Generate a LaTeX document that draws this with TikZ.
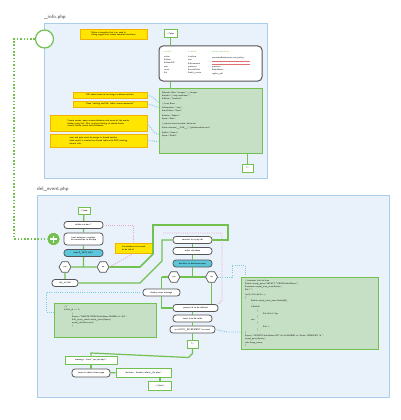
\documentclass[tikz,border=0pt]{standalone}
\usetikzlibrary{shapes.geometric,calc}
\definecolor{panelfill}{HTML}{E9F1FA}
\definecolor{panelline}{HTML}{AACDEB}
\definecolor{gline}{HTML}{72C050}
\definecolor{codefill}{HTML}{C6E0C5}
\definecolor{noteyel}{HTML}{FFE500}
\definecolor{noteorg}{HTML}{F2B200}
\definecolor{cyanfill}{HTML}{5CC6DA}
\definecolor{dcyan}{HTML}{7CCCDC}
\definecolor{dpink}{HTML}{E8A8C0}
\definecolor{boxline}{HTML}{555555}
\definecolor{redl}{HTML}{E07070}
\newcommand\tf{\fontsize{2.3}{2.8}\selectfont\sffamily}
\newcommand\cf{\fontsize{2.1}{3.2}\selectfont\sffamily}
\tikzset{
  panel/.style={fill=panelfill,draw=panelline,line width=1pt},
  note/.style={fill=noteyel,draw=noteorg,line width=0.8pt,inner sep=1.2pt,align=left,font=\tf,anchor=center},
  rbox/.style={rounded corners=3pt,draw=boxline,fill=white,line width=0.8pt,minimum width=39pt,minimum height=7pt,inner sep=0pt,font=\tf,align=center},
  cbox/.style={rbox,fill=cyanfill},
  gbox/.style={draw=gline,fill=white,line width=1pt,minimum height=8pt,inner sep=1pt,font=\tf,align=center},
  codebox/.style={fill=codefill,draw=gline,line width=1pt},
  flow/.style={draw=gline,line width=1.2pt},
  gdot/.style={draw=gline,line width=1.3pt,dash pattern=on 1.5pt off 1.8pt},
  cdot/.style={draw=dcyan,line width=0.9pt,dash pattern=on 1pt off 1.2pt},
  pdot/.style={draw=dpink,line width=0.9pt,dash pattern=on 1pt off 1.2pt},
  hexa/.style={regular polygon,regular polygon sides=6,draw=boxline,fill=white,line width=0.7pt,minimum size=12pt,inner sep=0pt,font=\tf},
  ctext/.style={font=\cf,anchor=west,inner sep=0pt},
  title/.style={font=\fontsize{5}{6}\selectfont\sffamily,text=black!75,anchor=west,inner sep=0pt},
}
\begin{document}
\begin{tikzpicture}[x=1pt,y=-1pt]
\useasboundingbox[fill=white] (0,0) rectangle (400,420);
% ================= TOP PANEL =================
\node[title] (t1) at (44,17) {\_info.php};
\draw[panel] (44,24) rectangle (267,178);
\node[note,minimum width=67pt,minimum height=10pt] (nt1) at (113.5,34) {Make a template that can used in\\ listing pages that access common functions};
\node[gbox,minimum width=13pt] (php1) at (170.5,34) {\textless?php};
\node[draw=boxline,fill=white,line width=1pt,rounded corners=4pt,minimum width=103pt,minimum height=35pt,inner sep=0pt] (tb) at (210.5,63.5) {};
\node[codebox,minimum width=103pt,minimum height=65pt,inner sep=0pt] (cb1) at (210.5,120.5) {};
\node[gbox,minimum width=11pt] (end1) at (247.5,168) {?\textgreater};
\draw[flow] (php1.south) -- (php1.south |- tb.north);
\draw[flow] (php1.south |- tb.south) -- (php1.south |- cb1.north);
\draw[flow] (end1.north |- cb1.south) -- (end1.north);
% table content
\node[ctext,text=gline] (h1) at (164,52) {variable};
\node[ctext,text=gline] (h2) at (188,52) {localhost};
\node[ctext,text=gline] (h3) at (212,52) {\$event description};
\node[ctext,align=left,anchor=north west] (col1) at (164,56) {action\\ \$album\\ \$albumPID\\ user\\ count\\ \$id};
\node[ctext,align=left,anchor=north west] (col2) at (188,56) {localhost\\ user\\ \$dbpassword\\ password\\ \$eventsTable\\ \$table\_events};
\node[ctext] (r1) at (212,57.5) {username@mydomain.com/gallery/};
\draw[redl,line width=0.6pt] (212,61) -- (250,61);
\draw[redl,line width=0.6pt] (212,64.5) -- (250,64.5);
\node[ctext,align=left,anchor=north west] (col3) at (212,66) {password\\ \$tableName\\ tagline\_pdf};
% code content
\node[ctext,align=left,anchor=north west] (code1) at (162,91.5) {\$dbpath=\$doc."/images/"; //images\\ \$tmpdir="/tmp/myalbums/";\\ \$dbhost="localhost";\\[2pt] //Loop Rows\\ \$albumpath="/tmp";\\ \$userFolder="\$user";\\[2pt] \$admin="\$admin";\\ \$pass="\$aaa";\\[2pt] //require shared method (album set\\ \$dirn=dirname(\_\_FILE\_\_)."/globalmyalbum.conf";\\[2pt] \$table="\$name";\\ \$pass="\$table";};
% notes left
\node[note,minimum width=74pt,minimum height=6pt] (nt2) at (110,95) {DB admin bank to be assign in dbases section};
\node[note,minimum width=74pt,minimum height=6pt] (nt3) at (110,104) {Close "setting and Db, table, name connected"};
\node[note,minimum width=97pt,minimum height=16pt] (nt4) at (98.5,123.5) {Create access, open access database and name of the events\\ before using this. May analyse relating to shared locale\\ usually locale create and databases.};
\node[note,minimum width=97pt,minimum height=13pt] (nt5) at (98.5,140.5) {user and pass must be assign in shared section\\ table result is created on shared table with PHP printing\\ format info.};
\draw[cdot] (nt2.east) -- ++(5,2) -- ($(cb1.north west)+(0,15)$);
\draw[cdot] (nt3.east) -- ++(4,1) -- ($(cb1.north west)+(0,20)$);
\draw[cdot] (nt4.east) -- ++(7,9) -- ($(cb1.north west)+(0,47)$);
\draw[cdot] (nt5.east) -- ($(cb1.north west)+(0,54)$);
% green circle and dotted link
\node[circle,draw=gline,fill=white,line width=1.2pt,minimum size=18pt,inner sep=0pt] (cc) at (44.5,39) {};
% ================= BOTTOM PANEL =================
\node[title] (t2) at (37,189) {del\_event.php};
\draw[panel] (37,195) rectangle (389,397);
\node[circle,fill=gline,draw=white,line width=0.5pt,minimum size=13pt,inner sep=0pt] (plus) at (53.5,239) {};
\draw[white,line width=1.6pt] ($(plus.center)+(-3.5,0)$) -- ($(plus.center)+(3.5,0)$) ($(plus.center)+(0,-3.5)$) -- ($(plus.center)+(0,3.5)$);
\draw[gdot] (cc.west) -- (14,39) -- (14,239) -- (plus.west);
% left column
\node[gbox,minimum width=12pt,minimum height=7pt] (php2) at (84,211) {\textless?php};
\node[rbox] (b1) at (83.5,225) {define var.doc ?};
\node[rbox,minimum height=12pt] (b2) at (83.5,239) {load database variables\\ for connection to db.php};
\node[cbox] (b3) at (83.5,253) {isset(\$\_GET['id'])?};
\node[hexa] (hy1) at (65,267) {yes};
\node[hexa] (hn1) at (103,267) {no};
\node[rbox,minimum width=26pt] (b4) at (65,283) {del\_id=\$id};
\draw[flow] (php2) -- (b1) -- (b2) -- (b3) -- (b3.south |- hy1.east);
\draw[flow] (hy1) -- (hn1);
\draw[flow] (hy1) -- (b4);
\node[note,minimum width=37pt,minimum height=10pt] (y1) at (133.5,248) {Lie database that need\\ to be tab id};
\draw[pdot] (b1.east) -- (y1.north |- b1.east) -- (y1.north);
\draw[pdot] (y1.south) -- (hn1.east);
% center column
\node[rbox] (c1) at (192.5,240) {connect to mysql db};
\node[rbox] (c2) at (192.5,251) {select database};
\node[cbox] (c3) at (192.5,263.5) {has data in database query};
\node[hexa] (hy2) at (174,277) {yes};
\node[hexa] (hn2) at (211.5,277) {no};
\node[rbox,minimum width=37pt] (b5) at (161.5,292.5) {display error message};
\node[rbox,minimum width=45pt] (c4) at (195.5,308) {prepare id to be deleted};
\node[rbox] (c5) at (192.5,318.5) {insert into db table};
\node[rbox,minimum width=45pt] (c6) at (192.5,329.5) {set AUTO\_INCREMENT to count};
\node[gbox,minimum width=11pt] (php3) at (192.5,344) {?\textgreater};
\draw[flow] (c1) -- (c2) -- (c3) -- (c3.south |- hy2.east);
\draw[flow] (b5.north |- hy2.west) -- (hy2) -- (hn2);
\draw[flow] (b5.north |- hy2.west) -- (b5.north);
\draw[flow] (b5.south) -- (b5.south |- c4.west) -- (c4.west);
\draw[flow] (hn2.south) -- (hn2.south |- c4.north);
\draw[flow] (c4.south -| c5.north) -- (c5.north);
\draw[flow] (c5) -- (c6) -- (php3);
% surrounding paths
\draw[flow,line width=1.6pt] (hn1.east) -- (140,267) -- (153,254) -- (153,225) -- (228,225) -- (228,240) -- (c1.east);
\draw[flow] (b4.east) -- (140,283) -- (162,261) -- (162,240) -- (c1.west);
\draw[pdot] (163,233) -- (222,233) -- (222,300) -- (c4.north east);
% message / exit
\node[gbox,minimum width=52pt] (m1) at (91,360) {message : alert("yes/yes.php")};
\node[rbox,minimum width=38pt,minimum height=8pt] (b6) at (91,373) {jump to admin show page};
\node[gbox,minimum width=55pt,minimum height=9pt] (m2) at (143.5,372.5) {location : header('admin\_list.php')};
\node[gbox,minimum width=23pt,minimum height=9pt] (m3) at (160,385.5) {\textless/html\textgreater};
\draw[flow] (php3.south) -- ++(0,5) -- ++(-4,4) -- (m1.north |- 0,353) -- (m1.north);
\draw[flow] (m1) -- (b6);
\draw[flow] (b6) -- (m2);
\draw[flow] (m3.north |- m2.south) -- (m3.north);
% right code box
\node[codebox,minimum width=137pt,minimum height=72pt,inner sep=0pt] (cb2) at (309.5,313) {};
\node[ctext,align=left,anchor=north west] (code2) at (245,279.5) {//comment id of del item\\ \$result=mysql\_query("SELECT * FROM \$tableName");\\ \$numrows=mysql\_num\_rows(\$result);\\ \$id="";\\[1pt] for(\$i=0;\$i\textless\$n;\$i++)\\ \{\\ \hspace{6pt}\$tabid=mysql\_fetch\_assoc(\$table[\$i]);\\ \hspace{6pt}...\\ \hspace{6pt}if(\$tabid)\\ \hspace{12pt}\{\\ \hspace{18pt}\$id=\$id+1; \$ge\\ \hspace{12pt}\}\\ \hspace{6pt}else\\ \hspace{12pt}\{\\ \hspace{18pt}\$id++;\\ \hspace{12pt}\}\\ \}\\ \$query="UPDATE \$tableName SET id=\$id WHERE id='\$order' ORDER BY 'id'";\\ mysql\_query(\$query);\\ echo \$msg\_return;\\ ?};
% left code box
\node[codebox,minimum width=102pt,minimum height=34pt,inner sep=0pt] (cb3) at (105,320) {};
\node[ctext,align=left,anchor=north west] (code3) at (64,306) {\textless?\\ if(\$del\_id == 1)\\ \hspace{8pt}\{\\ \hspace{8pt}\$query="DELETE FROM \$tableName WHERE id='\$id'";\\ \hspace{8pt}\$del\_query\_result=mysql\_query(\$query);\\ \hspace{8pt}mysql\_close(\$connect);\\ \hspace{8pt}\}};
% dotted cyan connectors
\draw[cdot] (b5.west) -- (46,292.5) -- (46,312) -- (cb3.west |- 0,312);
\draw[cdot] (hn2.east) -- (232,277) -- (232,265) -- (245,265) -- (cb2.north west -| 245,0);
\draw[cdot] (c6.east) -- (227,332) -- (cb2.west |- 0,332);
\end{tikzpicture}
\end{document}
